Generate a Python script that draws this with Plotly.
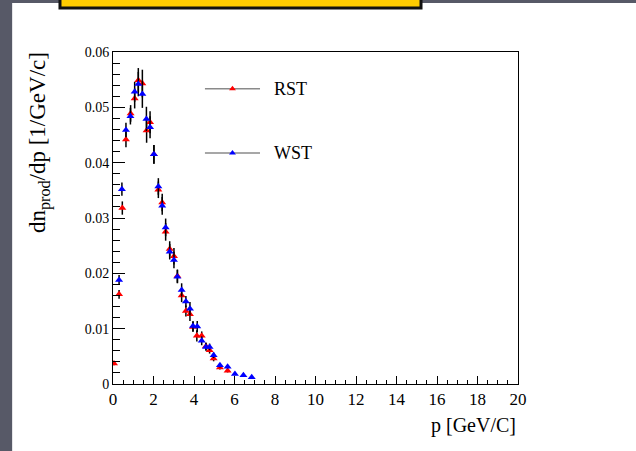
import plotly.graph_objects as go

# ---- data ----
rst_p = [0.05, 0.3, 0.46, 0.64, 0.87, 1.07, 1.25, 1.45, 1.66, 1.83, 2.02, 2.24, 2.43, 2.6,
         2.8, 3.01, 3.18, 3.39, 3.6, 3.8, 3.95, 4.14, 4.38, 4.59, 4.77, 4.97, 5.28, 5.66]
rst_v = [0.0037, 0.0162, 0.0318, 0.0442, 0.0489, 0.0516, 0.0549, 0.0543, 0.0458, 0.0473,
         0.0415, 0.0351, 0.0328, 0.0275, 0.0244, 0.0231, 0.0195, 0.0160, 0.0132, 0.0126,
         0.0103, 0.0087, 0.0087, 0.0068, 0.0061, 0.0046, 0.0030, 0.0024]
rst_err = [0.0003, 0.0008, 0.0012, 0.0014, 0.0015, 0.0018, 0.0022, 0.0025, 0.0022, 0.0020,
           0.0017, 0.0015, 0.0016, 0.0016, 0.0014, 0.0015, 0.0012, 0.0012, 0.0010, 0.0012,
           0.0009, 0.0010, 0.0008, 0.0007, 0.0006, 0.0005, 0.0004, 0.0003]

wst_p = [0.3, 0.44, 0.64, 0.86, 1.07, 1.25, 1.45, 1.65, 1.83, 2.02, 2.24, 2.43, 2.6, 2.8,
         3.01, 3.18, 3.39, 3.6, 3.8, 3.95, 4.16, 4.38, 4.59, 4.77, 4.97, 5.28, 5.66, 6.02,
         6.44, 6.85]
wst_v = [0.0188, 0.0352, 0.0459, 0.0484, 0.0528, 0.0542, 0.0524, 0.0479, 0.0464, 0.0415,
         0.0357, 0.0322, 0.0283, 0.0239, 0.0224, 0.0194, 0.0170, 0.0149, 0.0136, 0.0105,
         0.0104, 0.0078, 0.0067, 0.0067, 0.0052, 0.0034, 0.0031, 0.0018, 0.0016, 0.0012]
wst_err = [0.0009, 0.0012, 0.0013, 0.0015, 0.0018, 0.0022, 0.0025, 0.0022, 0.0020, 0.0017,
           0.0015, 0.0016, 0.0016, 0.0014, 0.0015, 0.0012, 0.0012, 0.0010, 0.0012, 0.0009,
           0.0010, 0.0008, 0.0007, 0.0006, 0.0005, 0.0004, 0.0003, 0.0002, 0.0002, 0.0002]

series_names = ["RST", "WST"]
series_colors = ["#ff0000", "#0000ff"]

x_title = "p [GeV/C]"
y_title = "dn<sub>prod</sub>/dp [1/GeV/c]"

SERIF = "Liberation Serif"

fig = go.Figure()

for p, v, e, name, col in [(rst_p, rst_v, rst_err, series_names[0], series_colors[0]),
                           (wst_p, wst_v, wst_err, series_names[1], series_colors[1])]:
    fig.add_trace(go.Scatter(
        x=p, y=v, mode="markers", name=name,
        marker=dict(symbol="triangle-up", size=7, color=col, line=dict(width=0)),
        error_y=dict(type="data", array=e, visible=True, color="black",
                     thickness=1.5, width=0),
        showlegend=False,
    ))

# legend drawn on an overlay axis in plot-fraction coordinates
leg_y = [0.889, 0.696]
for name, col, yy in zip(series_names, series_colors, leg_y):
    fig.add_trace(go.Scatter(
        x=[0.227, 0.363], y=[yy, yy], mode="lines", xaxis="x2", yaxis="y2",
        line=dict(color="#8a8a8a", width=1.5), showlegend=False, hoverinfo="skip"))
    fig.add_trace(go.Scatter(
        x=[0.295], y=[yy], mode="markers", xaxis="x2", yaxis="y2",
        marker=dict(symbol="triangle-up", size=6, color=col), showlegend=False,
        hoverinfo="skip"))
    fig.add_annotation(x=0.392, y=yy, xref="x2", yref="y2", text=name, showarrow=False,
                       xanchor="left", yanchor="middle",
                       font=dict(family=SERIF, size=18, color="black"))

fig.update_layout(
    width=636, height=451,
    margin=dict(l=113, r=118, t=52, b=67),
    paper_bgcolor="#575967",
    plot_bgcolor="white",
    showlegend=False,
    font=dict(family=SERIF, color="black"),
    xaxis=dict(range=[0, 20], dtick=2, tick0=0, ticks="inside", ticklen=8, tickwidth=1,
               tickcolor="black", showline=True, linecolor="black", linewidth=1,
               mirror=True, showgrid=False, zeroline=False,
               tickfont=dict(family=SERIF, size=17, color="black"),
               minor=dict(dtick=0.5, ticks="inside", ticklen=4, tickcolor="black",
                          showgrid=False)),
    yaxis=dict(range=[0, 0.06], dtick=0.01, tick0=0, ticks="inside", ticklen=12,
               tickwidth=1, tickcolor="black", showline=True, linecolor="black",
               linewidth=1, mirror=True, showgrid=False, zeroline=False,
               tickfont=dict(family=SERIF, size=14, color="black"),
               minor=dict(dtick=0.002, ticks="inside", ticklen=7, tickcolor="black",
                          showgrid=False)),
    xaxis2=dict(overlaying="x", range=[0, 1], visible=False, fixedrange=True),
    yaxis2=dict(overlaying="y", range=[0, 1], visible=False, fixedrange=True),
)

# slide background (white panel) and yellow title box
fig.add_shape(type="rect", xref="paper", yref="paper", x0=-0.249, x1=1.35, y0=-0.3,
              y1=1.1476, fillcolor="white", line=dict(width=0), layer="below")
fig.add_shape(type="rect", xref="paper", yref="paper", x0=-0.1309, x1=0.7605, y0=1.1325,
              y1=1.2, fillcolor="#ffcc00", line=dict(color="#111111", width=3), layer="above")

# axis titles
fig.add_annotation(x=1.0, y=-0.125, xref="paper", yref="paper", text=x_title,
                   showarrow=False, xanchor="right", yanchor="middle",
                   font=dict(family=SERIF, size=20, color="black"))
fig.add_annotation(x=-0.18, y=1.005, xref="paper", yref="paper", text=y_title,
                   showarrow=False, textangle=-90, xanchor="center", yanchor="top",
                   font=dict(family=SERIF, size=23, color="black"))

fig.write_html("out.html", config={"displayModeBar": False},
               post_script="document.body.style.margin='0';document.body.style.overflow='hidden';")
